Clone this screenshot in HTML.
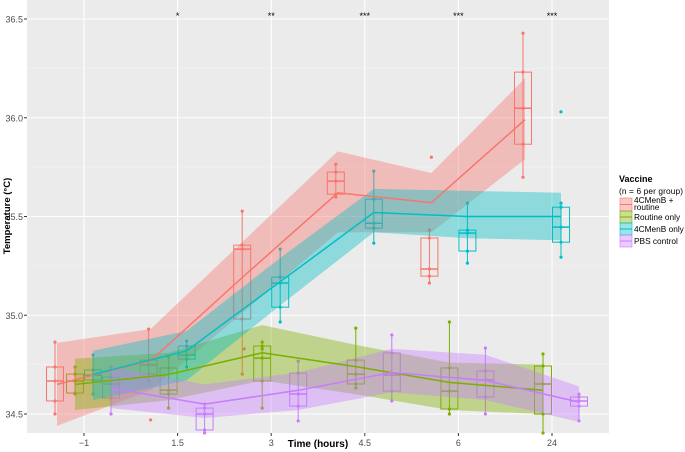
<!DOCTYPE html>
<html><head><meta charset="utf-8">
<style>
html,body{margin:0;padding:0;background:#fff;}
svg{display:block;font-family:"Liberation Sans",sans-serif;}
</style></head>
<body>
<svg id="chart" width="685" height="452" viewBox="0 0 685 452">
<rect x="27" y="0" width="582" height="433" fill="#EBEBEB"/>
<g id="grid"></g><g id="boxes"></g><g id="ribbons"></g><g id="lines"></g><g id="axes"></g><g id="legend"></g>
</svg>
<script>
const times = ["\u22121","1.5","3","4.5","6","24"];
const yTicks = [34.5,35.0,35.5,36.0,36.5];
const yTickLabels = ["34.5","35.0","35.5","36.0","36.5"];
const stars = ["","*","**","***","***","***"];
const groups = ["4CMenB + routine","Routine only","4CMenB only","PBS control"];
const colors = ["#F8766D","#7CAE00","#00BFC4","#C77CFF"];
// mean lines
const meanRed = [34.65,34.77,35.20,35.62,35.57,35.99];
const meanOlive = [34.65,34.70,34.81,34.74,34.66,34.62];
const meanCyan = [34.70,34.82,35.17,35.52,35.50,35.50];
const meanPurple = [34.63,34.55,34.62,34.71,34.67,34.56];
// ribbon upper / lower
const upRed = [34.86,34.93,35.38,35.83,35.72,36.20];
const loRed = [34.44,34.62,35.02,35.42,35.42,35.79];
const upOlive = [34.78,34.81,34.95,34.85,34.76,34.75];
const loOlive = [34.52,34.57,34.67,34.60,34.52,34.50];
const upCyan = [34.82,34.92,35.29,35.64,35.63,35.62];
const loCyan = [34.57,34.67,35.05,35.42,35.39,35.38];
const upPurple = [34.74,34.65,34.71,34.83,34.80,34.64];
const loPurple = [34.53,34.48,34.52,34.61,34.57,34.46];
// boxplots: [lower whisker, q1, median, q3, upper whisker] per time
const boxRed = [[34.50,34.566,34.667,34.738,34.864],[34.667,34.702,34.748,34.773,34.930],[34.702,34.981,35.335,35.355,35.527],[35.598,35.613,35.679,35.725,35.765],[35.163,35.198,35.234,35.391,35.431],[35.699,35.866,36.048,36.231,36.428]];
const boxOlive = [[34.601,34.606,34.667,34.702,34.738],[34.530,34.601,34.621,34.733,34.788],[34.530,34.667,34.783,34.844,34.864],[34.632,34.652,34.702,34.773,34.935],[34.50,34.525,34.616,34.733,34.966],[34.404,34.50,34.652,34.743,34.804]];
const boxCyan = [[34.601,34.672,34.697,34.723,34.799],[34.738,34.778,34.799,34.844,34.869],[34.966,35.041,35.163,35.193,35.335],[35.365,35.441,35.466,35.588,35.730],[35.264,35.325,35.416,35.431,35.568],[35.294,35.370,35.446,35.547,35.568]];
const boxPurple = [[34.50,34.581,34.652,34.687,34.738],[34.404,34.419,34.50,34.530,34.551],[34.465,34.540,34.601,34.707,34.768],[34.566,34.616,34.697,34.809,34.900],[34.50,34.586,34.672,34.718,34.834],[34.465,34.540,34.566,34.586,34.601]];
// outliers: [group index, time index, value]
const outliers = [[0,1,34.47],[0,4,35.80],[2,5,36.03],[1,2,34.83],[0,2,34.83]];

const means=[meanRed,meanOlive,meanCyan,meanPurple];
const ups=[upRed,upOlive,upCyan,upPurple];
const los=[loRed,loOlive,loCyan,loPurple];
const boxes=[boxRed,boxOlive,boxCyan,boxPurple];
const dodge=[-27,-9,9,27];
const NS="http://www.w3.org/2000/svg";
function X(i){return 84+i*93.6;}
function Y(v){return 414-(v-34.5)*197.5;}
function mk(tag,attrs,parent){const e=document.createElementNS(NS,tag);for(const k in attrs)e.setAttribute(k,attrs[k]);parent.appendChild(e);return e;}
const gGrid=document.getElementById('grid'),gB=document.getElementById('boxes'),gR=document.getElementById('ribbons'),gL=document.getElementById('lines'),gA=document.getElementById('axes'),gLeg=document.getElementById('legend');
for(let i=0;i<yTicks.length-1;i++){const l=mk('line',{x1:27,x2:609,y1:Y((yTicks[i]+yTicks[i+1])/2),y2:Y((yTicks[i]+yTicks[i+1])/2),stroke:'#F5F5F5','stroke-width':0.6},gGrid);

}
yTicks.forEach((t,i)=>{const l=mk('line',{x1:27,x2:609,y1:Y(t),y2:Y(t),stroke:'#fff','stroke-width':1.1},gGrid);


const tk=mk('line',{x1:24,x2:27,y1:Y(t),y2:Y(t),stroke:'#333','stroke-width':1},gA);


const tx=mk('text',{x:23,y:Y(t)+3.5,'text-anchor':'end','font-size':9,fill:'#4D4D4D'},gA);tx.textContent=yTickLabels[i];

});
times.forEach((t,i)=>{const l=mk('line',{x1:X(i),x2:X(i),y1:0,y2:433,stroke:'#fff','stroke-width':1.1},gGrid);


const tk=mk('line',{x1:X(i),x2:X(i),y1:433,y2:436,stroke:'#333','stroke-width':1},gA);


const tx=mk('text',{x:X(i),y:446,'text-anchor':'middle','font-size':9,fill:'#4D4D4D'},gA);tx.textContent=t;


if(stars[i]){const s=mk('text',{x:X(i),y:19,'text-anchor':'middle','font-size':9,fill:'#000'},gA);s.textContent=stars[i];

}});
boxes.forEach((bs,g)=>{bs.forEach((b,i)=>{const cx=X(i)+dodge[g]+(g===0?-2:0),w=8.5,c=colors[g];
const wl=mk('line',{x1:cx,x2:cx,y1:Y(b[0]),y2:Y(b[4]),stroke:c,'stroke-width':1},gB);


const r=mk('rect',{x:cx-w,y:Y(b[3]),width:2*w,height:Math.max(1,Y(b[1])-Y(b[3])),fill:'none',stroke:c,'stroke-width':1},gB);


const m=mk('line',{x1:cx-w,x2:cx+w,y1:Y(b[2]),y2:Y(b[2]),stroke:c,'stroke-width':1.5},gB);


b.forEach(v=>{const p=mk('circle',{cx:cx,cy:Y(v),r:1.6,fill:c},gB);

});});});
outliers.forEach(o=>{const p=mk('circle',{cx:X(o[1])+dodge[o[0]],cy:Y(o[2]),r:1.6,fill:colors[o[0]]},gB);

});
means.forEach((m,g)=>{let top='',bot='';
for(let i=0;i<6;i++){top+=(i?'L':'M')+(X(i)+dodge[g])+','+Y(ups[g][i]);}
for(let i=5;i>=0;i--){bot+='L'+(X(i)+dodge[g])+','+Y(los[g][i]);}
const rb=mk('path',{d:top+bot+'Z',fill:colors[g],'fill-opacity':0.4,stroke:'none'},gR);


const pts=m.map((v,i)=>(X(i)+dodge[g])+','+Y(v)).join(' ');
const pl=mk('polyline',{points:pts,fill:'none',stroke:colors[g],'stroke-width':1.5},gL);

});
const xt=mk('text',{x:318,y:447,'text-anchor':'middle','font-size':10,'font-weight':'bold',fill:'#000'},gA);xt.textContent='Time (hours)';


const yt=mk('text',{x:0,y:0,transform:'translate(10,216) rotate(-90)','text-anchor':'middle','font-size':9.5,'font-weight':'bold',fill:'#000'},gA);yt.textContent='Temperature (°C)';


const lt=mk('text',{x:619,y:182,'font-size':9,'font-weight':'bold',fill:'#000'},gLeg);lt.textContent='Vaccine';


const ls=mk('text',{x:619,y:194,'font-size':8.3,fill:'#000',textLength:64},gLeg);ls.textContent='(n = 6 per group)';


const ky=[198,211,223,235];
groups.forEach((gname,g)=>{const y=ky[g],h=g===0?13:12;
const k=mk('rect',{x:620,y:y,width:12,height:h,fill:colors[g],'fill-opacity':0.4,stroke:colors[g],'stroke-width':0.6},gLeg);


mk('line',{x1:620,x2:632,y1:y+h/2,y2:y+h/2,stroke:colors[g],'stroke-width':1},gLeg);
if(g===0){const t1=mk('text',{x:634,y:y+5,'font-size':8.3,fill:'#000'},gLeg);t1.textContent='4CMenB +';


const t2=mk('text',{x:634,y:y+12,'font-size':8.3,fill:'#000'},gLeg);t2.textContent='routine';

}
else{const t=mk('text',{x:634,y:y+9,'font-size':8.3,fill:'#000'},gLeg);t.textContent=gname;

}});
</script>
</body></html>
